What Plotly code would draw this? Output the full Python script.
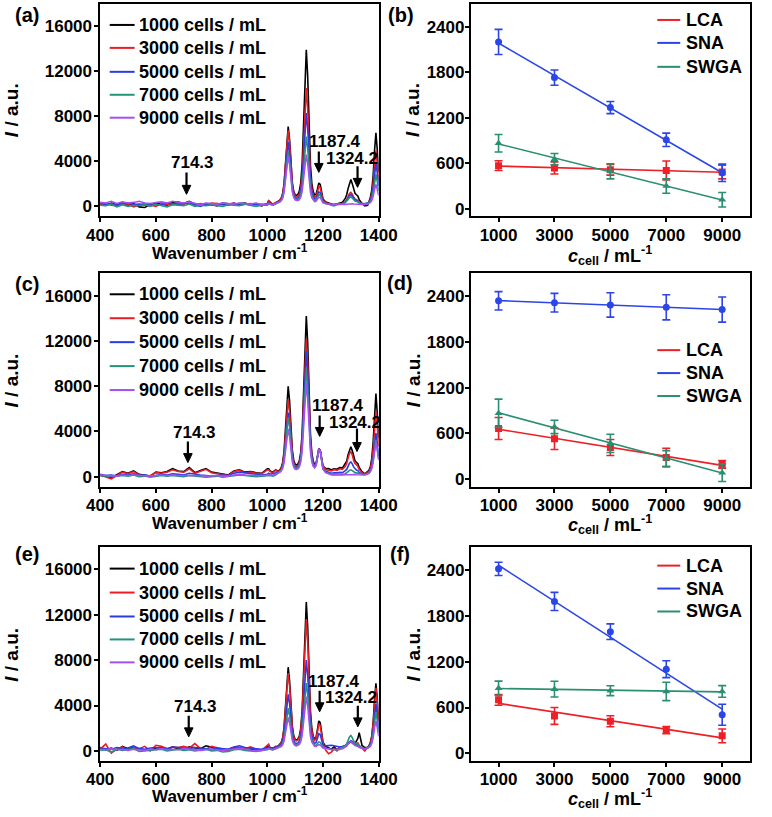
import numpy as np
import plotly.graph_objects as go

# ---------------- spectra data ----------------
wavenumber = [400, 420, 440, 460, 480, 500, 520, 540, 560, 580, 600, 620, 640, 660, 680, 700, 720, 740, 760, 780,
              800, 820, 840, 860, 880, 900, 920, 940, 960, 980, 1000, 1005, 1010, 1020, 1030,
              1040, 1045, 1050, 1055, 1060, 1065, 1070, 1075, 1080, 1085, 1090, 1095, 1100, 1105, 1110, 1115,
              1120, 1125, 1130, 1135, 1140, 1145, 1150, 1155, 1160, 1165, 1170, 1175, 1180, 1185, 1190, 1195, 1200,
              1210, 1220, 1230, 1240, 1250, 1260, 1270, 1280,
              1285, 1290, 1295, 1300, 1305, 1310, 1315, 1320, 1325, 1330,
              1340, 1350, 1360,
              1365, 1370, 1375, 1380, 1385, 1390, 1395, 1400]

concentrations = ["1000 cells / mL", "3000 cells / mL", "5000 cells / mL", "7000 cells / mL", "9000 cells / mL"]

# panel (a)
spec_a_1000 = [200, 80, 300, 150, 350, 100, 250, -50, -100, 150, 300, 220, 100, 350, 380, 250, 450, 200, 100, 250,
               150, 50, 300, 200, 150, 250, 300, 150, 250, 50, 250, 500, 350, 150, 300,
               443, 559, 729, 1116, 1946, 3660, 5917, 7087, 5945, 3728, 2069, 1308, 1016, 970, 1073, 1355, 2067, 3684,
               7088, 11596, 13918, 11582, 7088, 3626, 2008, 1297, 1005, 1055, 1526, 2073, 1950, 1178, 641,
               375, 297, 180, 120, 210, 260, 370, 700,
               1030, 1580, 2130, 2380, 2020, 1470, 1150, 1030, 920, 590,
               250, 40, 100,
               400, 790, 1430, 2710, 4950, 6550, 4950, 3030]
spec_a_3000 = [150, 250, 100, 50, 300, 200, -50, 150, 250, 100, 0, 250, 150, 200, 300, 200, 350, 150, 250, 100,
               300, 250, 150, 200, 300, 100, 200, 250, 150, 100, 200, 550, 300, 200, 350,
               419, 527, 690, 1057, 1847, 3482, 5638, 6753, 5658, 3534, 1940, 1201, 906, 836, 893, 1092, 1619, 2829,
               5385, 8771, 10515, 8758, 5381, 2769, 1554, 1025, 810, 874, 1288, 1763, 1664, 1009, 553,
               330, 266, 150, 200, 180, 205, 260, 425,
               590, 865, 1140, 1250, 1085, 810, 645, 590, 535, 370,
               240, 200, 250,
               410, 630, 1110, 2070, 3750, 4950, 3750, 2310]
spec_a_5000 = [300, 150, 250, 100, 200, 300, 150, 200, 100, 250, 150, 100, 300, 200, 150, 250, 300, 150, 0, 200,
               100, 250, 200, 100, 300, 150, 250, 100, 200, 150, 150, 300, 200, 150, 250,
               375, 466, 604, 914, 1582, 2965, 4788, 5731, 4804, 3005, 1655, 1027, 774, 709, 748, 901, 1313, 2263,
               4272, 6934, 8305, 6923, 4264, 2205, 1248, 828, 655, 684, 961, 1282, 1210, 755, 439,
               283, 237, 150, 100, 177, 195, 240, 375,
               510, 735, 960, 1050, 915, 690, 555, 510, 465, 330,
               222, 240, 290,
               350, 520, 890, 1630, 2925, 3850, 2925, 1815]
spec_a_7000 = [100, 50, 200, -50, 150, 0, 100, 50, 150, 0, 200, 100, -50, 150, 100, 50, 200, 0, 100, 50,
               150, 100, 0, 150, 100, 50, 200, 100, 0, 100, 100, 200, 150, 100, 200,
               339, 415, 533, 797, 1367, 2548, 4105, 4910, 4117, 2578, 1421, 881, 659, 595, 615, 722, 1024, 1725,
               3211, 5182, 6197, 5172, 3204, 1674, 966, 656, 530, 560, 786, 1046, 990, 628, 376,
               252, 216, 100, 50, 171, 185, 220, 325,
               430, 605, 780, 850, 745, 570, 465, 430, 395, 290,
               206, 218, 252,
               300, 420, 690, 1230, 2175, 2850, 2175, 1365]
spec_a_9000 = [350, 300, 450, 250, 400, 300, 350, 450, 300, 250, 350, 400, 300, 450, 350, 300, 400, 250, 150, 300,
               250, 200, 300, 250, 200, 300, 250, 200, 300, 150, 200, 250, 200, 150, 250,
               317, 385, 491, 729, 1244, 2310, 3718, 4444, 3726, 2332, 1283, 791, 583, 517, 519, 591, 807, 1318,
               2405, 3849, 4593, 3840, 2396, 1268, 749, 522, 430, 454, 624, 820, 778, 507, 318,
               226, 199, 160, 140, 180, 160, 150, 175,
               190, 215, 240, 250, 235, 210, 200, 190, 180, 170,
               150, 140, 204,
               240, 330, 510, 870, 1500, 1950, 1500, 960]

# panel (c)
spec_c_1000 = [100, 50, -100, 150, 450, 300, 500, 200, 100, 50, 400, 350, 450, 700, 500, 450, 800, 350, 550, 700,
               400, 300, 250, 150, 500, 600, 400, 450, 350, 300, 700, 700, 500, 400, 600,
               476, 605, 798, 1235, 2173, 4112, 6667, 7990, 6695, 4182, 2299, 1431, 1092, 1025, 1120, 1400, 2124, 3773,
               7250, 11855, 14227, 11839, 7254, 3713, 2065, 1347, 1060, 1165, 1774, 2467, 2327, 1382, 924,
               702, 711, 600, 700, 650, 800, 780, 1125,
               1370, 1945, 2420, 2650, 2305, 1730, 1385, 1270, 1155, 810,
               434, 242, 435,
               556, 870, 1590, 3030, 5550, 7350, 5550, 3390]
spec_c_3000 = [150, -50, -200, 100, 400, 250, 450, 150, 50, 100, 350, 300, 400, 600, 450, 400, 700, 300, 500, 650,
               350, 250, 200, 100, 450, 550, 350, 400, 300, 250, 600, 600, 450, 350, 550,
               429, 540, 705, 1080, 1884, 3546, 5736, 6870, 5760, 3606, 1992, 1248, 957, 900, 981, 1222, 1842, 3256,
               6236, 10183, 12216, 10169, 6246, 3215, 1807, 1201, 965, 1108, 1752, 2476, 2342, 1381, 862,
               637, 599, 500, 620, 560, 700, 640, 925,
               1160, 1635, 2060, 2200, 1915, 1440, 1155, 1060, 915, 630,
               352, 226, 375,
               468, 710, 1270, 2390, 4350, 5750, 4350, 2670]
spec_c_5000 = [200, 100, 150, 50, 200, 150, 250, 100, 150, 50, 100, 200, 150, 250, 200, 150, 300, 200, 150, 100,
               50, 100, 150, 100, 300, 400, 350, 250, 200, 150, 200, 300, 200, 250, 300,
               383, 475, 610, 917, 1576, 2937, 4730, 5659, 4752, 2992, 1674, 1070, 838, 802, 884, 1108, 1675, 2961,
               5670, 9256, 11104, 9246, 5686, 2940, 1664, 1119, 910, 1070, 1723, 2454, 2324, 1367, 700,
               477, 391, 300, 350, 330, 380, 360, 525,
               640, 915, 1190, 1300, 1135, 860, 695, 590, 535, 370,
               238, 194, 294,
               357, 520, 890, 1630, 2925, 3850, 2925, 1815]
spec_c_7000 = [100, 50, 0, 50, 100, 50, 150, 0, 50, -50, 0, 100, 50, 100, 50, 0, 100, 50, 0, -50,
               0, 50, -50, 0, 100, 150, 100, 50, 0, 50, 100, 150, 100, 50, 150,
               363, 447, 572, 856, 1466, 2725, 4385, 5244, 4403, 2772, 1550, 988, 769, 729, 795, 985, 1472, 2580,
               4915, 8007, 9600, 7997, 4933, 2565, 1469, 1006, 835, 1017, 1684, 2424, 2300, 1347, 683,
               364, 281, 200, 180, 220, 200, 195, 262,
               330, 442, 555, 600, 532, 420, 352, 330, 307, 240,
               186, 168, 257,
               314, 460, 770, 1390, 2475, 3250, 2475, 1545]
spec_c_9000 = [150, 100, 100, 50, 150, 100, 150, 100, 100, 50, 100, 150, 100, 150, 100, 100, 150, 100, 100, 50,
               100, 100, 50, 50, 150, 200, 150, 100, 100, 100, 150, 200, 150, 100, 200,
               322, 391, 491, 719, 1207, 2215, 3543, 4231, 3559, 2255, 1280, 832, 661, 634, 695, 862, 1283, 2239,
               4252, 6917, 8290, 6909, 4275, 2240, 1300, 909, 770, 972, 1651, 2398, 2280, 1330, 669,
               352, 272, 150, 160, 140, 150, 160, 170,
               180, 190, 200, 210, 200, 190, 180, 170, 165, 160,
               150, 140, 237,
               295, 440, 730, 1310, 2325, 3050, 2325, 1455]

# panel (e)
spec_e_1000 = [300, 100, 250, 50, 400, 200, 300, 150, 100, 50, 250, 300, 100, 350, 200, 150, 350, 250, 200, 450,
               300, 200, 100, 150, 300, 200, 100, 150, 50, 100, 300, 400, 200, 250, 300,
               451, 570, 748, 1150, 2015, 3803, 6159, 7379, 6185, 3868, 2131, 1331, 1018, 957, 1044, 1303, 1969, 3489,
               6692, 10935, 13121, 10921, 6703, 3444, 1931, 1279, 1025, 1177, 1865, 2639, 2495, 1468, 752,
               404, 309, 150, 350, 100, 300, 400, 450,
               500, 650, 750, 800, 700, 600, 650, 900, 1100, 1600,
               500, 300, 324,
               440, 730, 1310, 2470, 4500, 5950, 4500, 2760]
spec_e_3000 = [150, 600, -200, 150, 350, 50, 300, 200, 400, 0, 500, 400, 200, 350, 300, 400, 250, 650, 200, 150,
               400, 300, 150, 0, 250, 300, 200, 350, 100, 50, 500, 600, 300, 200, 400,
               427, 537, 702, 1076, 1880, 3541, 5731, 6864, 5753, 3598, 1982, 1236, 941, 879, 951, 1177, 1764, 3106,
               5936, 9685, 11616, 9671, 5944, 3062, 1724, 1149, 925, 1062, 1676, 2367, 2239, 1323, 685,
               50, -250, -100, 200, 0, 250, 300, 400,
               550, 700, 850, 900, 800, 650, 550, 600, 700, 500,
               200, 0, 312,
               420, 690, 1230, 2310, 4200, 5550, 4200, 2580]
spec_e_5000 = [250, 200, 150, 300, 200, 250, 450, 200, 150, 250, 300, 250, 200, 350, 300, 250, 200, 300, 250, 200,
               150, 250, 200, 150, 350, 450, 300, 250, 200, 150, 250, 350, 300, 250, 350,
               347, 427, 545, 815, 1393, 2587, 4163, 4978, 4179, 2626, 1463, 924, 709, 661, 706, 859, 1259, 2176,
               4112, 6676, 7998, 6667, 4113, 2138, 1220, 823, 665, 736, 1103, 1519, 1438, 876, 486,
               445, 493, 500, 450, 400, 350, 380, 450,
               550, 700, 850, 900, 800, 650, 550, 520, 480, 350,
               250, 200, 270,
               350, 550, 950, 1750, 3150, 4150, 3150, 1950]
spec_e_7000 = [50, 100, -100, 150, 50, 100, 200, -50, 0, 50, 100, 150, 0, 100, 150, 50, 100, 0, 50, 150,
               0, 50, -100, -50, 100, 150, 50, 0, -50, 50, 100, 200, 150, 100, 200,
               297, 357, 445, 647, 1079, 1971, 3149, 3758, 3161, 2000, 1131, 728, 567, 531, 564, 677, 975, 1657,
               3096, 5003, 5986, 4996, 3089, 1617, 929, 624, 495, 491, 631, 800, 755, 500, 324,
               235, 208, 100, 150, 80, 200, 270, 450,
               630, 930, 1230, 1350, 1170, 870, 690, 630, 570, 390,
               246, 198, 285,
               340, 480, 810, 1470, 2625, 3450, 2625, 1635]
spec_e_9000 = [150, 100, 200, 100, 150, 50, 150, 100, 50, 150, 100, 200, 100, 150, 100, 200, 150, 100, 50, 100,
               150, 100, 50, 100, 150, 200, 150, 100, 0, 50, 150, 200, 150, 100, 200,
               264, 311, 379, 536, 870, 1562, 2474, 2946, 2484, 1585, 912, 600, 476, 449, 476, 567, 803, 1344,
               2486, 3998, 4778, 3993, 2478, 1310, 762, 517, 412, 391, 462, 552, 522, 370, 265,
               210, 192, 150, 100, 150, 120, 200, 325,
               430, 605, 780, 850, 745, 570, 465, 430, 395, 290,
               206, 178, 239,
               285, 400, 650, 1150, 2025, 2650, 2025, 1275]

# ---------------- lectin data ----------------
cells = [1000, 3000, 5000, 7000, 9000]
lectins = ["LCA", "SNA", "SWGA"]

b_lca = [570, 540, 515, 505, 485]
b_lca_err = [65, 80, 70, 125, 90]
b_sna = [2200, 1730, 1335, 910, 475]
b_sna_err = [165, 100, 80, 88, 115]
b_swga = [865, 655, 495, 300, 120]
b_swga_err = [115, 75, 100, 95, 95]

d_lca = [665, 530, 415, 285, 195]
d_lca_err = [145, 140, 105, 120, 50]
d_sna = [2340, 2315, 2285, 2255, 2225]
d_sna_err = [120, 122, 160, 165, 165]
d_swga = [865, 685, 470, 270, 85]
d_swga_err = [185, 87, 120, 105, 115]

f_lca = [700, 490, 420, 305, 230]
f_lca_err = [70, 110, 72, 48, 90]
f_sna = [2410, 1985, 1590, 1100, 505]
f_sna_err = [87, 118, 102, 110, 137]
f_swga = [850, 840, 820, 810, 810]
f_swga_err = [94, 102, 65, 120, 76]

spec_ticks_x = [400, 600, 800, 1000, 1200, 1400]
spec_ticks_y = [0, 4000, 8000, 12000, 16000]
lect_ticks_x = [1000, 3000, 5000, 7000, 9000]
lect_ticks_y = [0, 600, 1200, 1800, 2400]

# peak labels
peak_labels = ["714.3", "1187.4", "1324.2"]
label_pos = [
    [(733, 3900), (1244, 5780), (1304, 4270)],
    [(737, 3910), (1253, 6310), (1316, 4800)],
    [(741, 3890), (1240, 6100), (1300, 4690)],
]
arrow_pos = [
    [(710, 3000, 1070), (1185, 4890, 3020), (1324, 3560, 1690)],
    [(715, 3110, 1245), (1188, 5420, 3560), (1322, 4270, 2220)],
    [(718, 3090, 1240), (1188, 5300, 3450), (1325, 3980, 2120)],
]

# ---------------- styling ----------------
W, H = 772, 817
FONT = "Liberation Sans, Arial, sans-serif"
spec_colors = ["#000000", "#ec1c24", "#2a3be6", "#23937a", "#a64ff0"]
lect_colors = ["#ee2027", "#2b45e8", "#2a8f70"]
lect_symbols = ["square", "circle", "triangle-up"]
SPEC_XR = [400, 1400]
SPEC_YR = [-900, 18000]


def px_x(p):
    return p / W


def px_y(p):
    return 1 - p / H


def bold(s):
    return dict(family=FONT, size=s, color="black", weight="bold")


col_px = [(90, 381), (477, 769)]
row_px = [(4, 217), (274, 488), (548, 763)]
col_dom = [[px_x(a), px_x(b)] for a, b in col_px]
row_dom = [[px_y(b), px_y(t)] for t, b in row_px]

fig = go.Figure()

spec_sets = [
    [spec_a_1000, spec_a_3000, spec_a_5000, spec_a_7000, spec_a_9000],
    [spec_c_1000, spec_c_3000, spec_c_5000, spec_c_7000, spec_c_9000],
    [spec_e_1000, spec_e_3000, spec_e_5000, spec_e_7000, spec_e_9000],
]
for r, sset in enumerate(spec_sets):
    for s in sset:
        if len(s) != len(wavenumber):
            raise ValueError(f"length mismatch row {r}: {len(s)}")

lect_sets = [
    [(b_lca, b_lca_err), (b_sna, b_sna_err), (b_swga, b_swga_err)],
    [(d_lca, d_lca_err), (d_sna, d_sna_err), (d_swga, d_swga_err)],
    [(f_lca, f_lca_err), (f_sna, f_sna_err), (f_swga, f_swga_err)],
]

for r in range(3):
    ax_i = 2 * r + 1
    xa = "x" if ax_i == 1 else f"x{ax_i}"
    ya = "y" if ax_i == 1 else f"y{ax_i}"
    for k, s in enumerate(spec_sets[r]):
        fig.add_trace(go.Scatter(x=wavenumber, y=s, mode="lines", name=concentrations[k], showlegend=False,
                                 line=dict(color=spec_colors[k], width=1.6), xaxis=xa, yaxis=ya))
    ax_j = 2 * r + 2
    xb = f"x{ax_j}"
    yb = f"y{ax_j}"
    for k, (vals, err) in enumerate(lect_sets[r]):
        coef = np.polyfit(cells, vals, 1)
        xfit = [cells[0], cells[-1]]
        fig.add_trace(go.Scatter(x=xfit, y=list(np.polyval(coef, xfit)), mode="lines", name=lectins[k],
                                 showlegend=False, line=dict(color=lect_colors[k], width=1.6),
                                 xaxis=xb, yaxis=yb))
    for k, (vals, err) in enumerate(lect_sets[r]):
        fig.add_trace(go.Scatter(x=cells, y=vals, mode="markers", name=lectins[k], showlegend=False,
                                 marker=dict(color=lect_colors[k], symbol=lect_symbols[k], size=7),
                                 error_y=dict(type="data", array=err, color=lect_colors[k],
                                              thickness=1.6, width=4),
                                 xaxis=xb, yaxis=yb))

axis_common = dict(showline=True, linecolor="black", linewidth=1.5, mirror=True,
                   ticks="outside", ticklen=4, tickwidth=1.5, tickcolor="black",
                   showgrid=False, zeroline=False, tickfont=bold(17))

layout = dict(width=W, height=H, margin=dict(l=0, r=0, t=0, b=0), autosize=False,
              paper_bgcolor="white", plot_bgcolor="white", showlegend=False,
              font=dict(family=FONT, color="black"))

for r in range(3):
    i = 2 * r + 1
    j = 2 * r + 2
    kx = "xaxis" if i == 1 else f"xaxis{i}"
    ky = "yaxis" if i == 1 else f"yaxis{i}"
    layout[kx] = dict(axis_common, domain=col_dom[0], range=SPEC_XR, tickvals=spec_ticks_x,
                      ticktext=[str(v) for v in spec_ticks_x], ticklabelstandoff=-2,
                      anchor="y" if i == 1 else f"y{i}")
    layout[ky] = dict(axis_common, domain=row_dom[r], range=SPEC_YR, tickvals=spec_ticks_y,
                      ticktext=[str(v) for v in spec_ticks_y], ticklabelstandoff=-1,
                      anchor="x" if i == 1 else f"x{i}")
    layout[f"xaxis{j}"] = dict(axis_common, domain=col_dom[1], range=[0, 10000], tickvals=lect_ticks_x,
                               ticktext=[str(v) for v in lect_ticks_x], ticklabelstandoff=-2,
                               anchor=f"y{j}")
    layout[f"yaxis{j}"] = dict(axis_common, domain=row_dom[r], range=[-100, 2700], tickvals=lect_ticks_y,
                               ticktext=[str(v) for v in lect_ticks_y], ticklabelstandoff=-3,
                               anchor=f"x{j}")

shapes = []
ann = []

# legends drawn as line samples + text (pixel positions of the reference)
spec_leg_rows = [[25, 48, 72, 95, 118], [295, 319, 343, 367, 391], [570, 594, 618, 641, 664]]
lect_leg_rows = [[20, 43, 67], [351, 374, 397], [567, 590, 613]]
for r in range(3):
    for k, yy in enumerate(spec_leg_rows[r]):
        shapes.append(dict(type="line", xref="paper", yref="paper", x0=px_x(100), x1=px_x(126),
                           y0=px_y(yy), y1=px_y(yy), line=dict(color=spec_colors[k], width=2)))
        ann.append(dict(text=concentrations[k], x=px_x(129), y=px_y(yy), xref="paper", yref="paper",
                        showarrow=False, xanchor="left", yanchor="middle", font=bold(18)))
    for k, yy in enumerate(lect_leg_rows[r]):
        shapes.append(dict(type="line", xref="paper", yref="paper", x0=px_x(672), x1=px_x(696),
                           y0=px_y(yy), y1=px_y(yy), line=dict(color=lect_colors[k], width=2)))
        ann.append(dict(text=lectins[k], x=px_x(700), y=px_y(yy), xref="paper", yref="paper",
                        showarrow=False, xanchor="left", yanchor="middle", font=bold(18)))

# panel letters
letters = [("(a)", 14, 15), ("(b)", 404, 15), ("(c)", 14, 285), ("(d)", 403, 284), ("(e)", 14, 555), ("(f)", 403, 555)]
for t, x, y in letters:
    ann.append(dict(text=t, x=px_x(x), y=px_y(y), xref="paper", yref="paper", showarrow=False,
                    xanchor="center", yanchor="middle", font=bold(20)))

# axis titles
y_title_rows = [110, 381, 656]
for r in range(3):
    ann.append(dict(text="<i>I</i> / a.u.", x=px_x(14), y=px_y(y_title_rows[r]), xref="paper", yref="paper",
                    showarrow=False, textangle=-90, xanchor="center", yanchor="middle", xshift=-16,
                    font=bold(19)))
    ann.append(dict(text="<i>I</i> / a.u.", x=px_x(417), y=px_y(y_title_rows[r]), xref="paper", yref="paper",
                    showarrow=False, textangle=-90, xanchor="center", yanchor="middle", font=bold(19)))
x_title_left = [253, 523, 797]
x_title_right = [256, 526, 800]
for r in range(3):
    ann.append(dict(text="Wavenumber / cm<sup>-1</sup>", x=px_x(226), y=px_y(x_title_left[r]), xref="paper",
                    yref="paper", showarrow=False, xanchor="center", yanchor="middle", font=bold(17)))
    ann.append(dict(text="<i>c</i><sub>cell</sub> / mL<sup>-1</sup>", x=px_x(623), y=px_y(x_title_right[r]),
                    xref="paper", yref="paper", showarrow=False, xanchor="center", yanchor="middle", font=bold(18)))

# peak labels (text) and arrows (shapes: shaft + filled head)
for r in range(3):
    i = 2 * r + 1
    xr = "x" if i == 1 else f"x{i}"
    yr = "y" if i == 1 else f"y{i}"
    ux = (SPEC_XR[1] - SPEC_XR[0]) / (col_px[0][1] - col_px[0][0])
    uy = (SPEC_YR[1] - SPEC_YR[0]) / (row_px[r][1] - row_px[r][0])
    head_w = 4.5 * ux
    head_h = 9 * uy
    for k in range(3):
        lx, ly = label_pos[r][k]
        ann.append(dict(text=peak_labels[k], x=lx, y=ly, xref=xr, yref=yr, showarrow=False,
                        xanchor="center", yanchor="middle", font=bold(17)))
        axx, y0, y1 = arrow_pos[r][k]
        shapes.append(dict(type="line", xref=xr, yref=yr, x0=axx, x1=axx, y0=y0, y1=y1 + head_h * 0.8,
                           line=dict(color="black", width=2.2)))
        path = (f"M {axx - head_w} {y1 + head_h} L {axx + head_w} {y1 + head_h} "
                f"L {axx} {y1} Z")
        shapes.append(dict(type="path", xref=xr, yref=yr, path=path, fillcolor="black",
                           line=dict(color="black", width=1)))

layout["shapes"] = shapes
layout["annotations"] = ann
fig.update_layout(**layout)
fig.write_html("out.html", config={"displayModeBar": False},
               post_script="document.body.style.margin='0px';document.body.style.padding='0px';")
